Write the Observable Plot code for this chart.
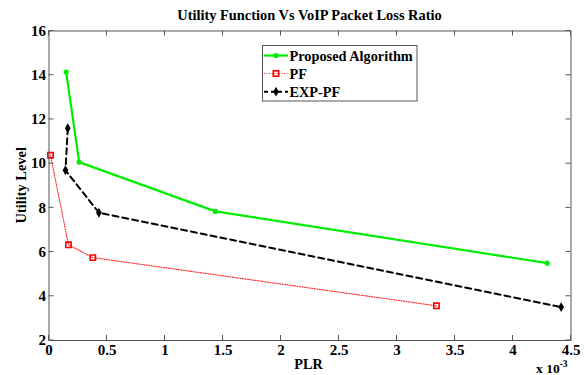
<!DOCTYPE html>
<html><head><meta charset="utf-8">
<script src="https://cdn.jsdelivr.net/npm/d3@7"></script>
<script src="https://cdn.jsdelivr.net/npm/@observablehq/plot@0.6"></script>
<style>body{margin:0;background:#fff;} svg{display:block;} svg text{font-family:"Liberation Serif",serif !important;font-weight:bold !important;}
svg [aria-label$="tick label"], svg [aria-label$="tick label"] text{font-size:15px !important;font-family:"Liberation Serif",serif !important;font-weight:bold !important;}</style>
</head><body><div id="chart"></div>
<script>
const seriesNames = ["Proposed Algorithm", "PF", "EXP-PF"];
const proposedX = [0.148, 0.26, 1.435, 4.295];
const proposedY = [14.14, 10.07, 7.84, 5.5];
const pfX = [0.013, 0.168, 0.378, 3.34];
const pfY = [10.38, 6.33, 5.75, 3.57];
const expX = [0.162, 0.142, 0.43, 4.415];
const expY = [11.6, 9.7, 7.78, 3.51];
const xTicks = [0, 0.5, 1, 1.5, 2, 2.5, 3, 3.5, 4, 4.5];
const xTickLabels = ["0", "0.5", "1", "1.5", "2", "2.5", "3", "3.5", "4", "4.5"];
const yTicks = [2, 4, 6, 8, 10, 12, 14, 16];
const titleText = "Utility Function Vs VoIP Packet Loss Ratio";
const xLabel = "PLR";
const yLabel = "Utility Level";

const toRows = (xs, ys) => xs.map((x, i) => ({x, y: ys[i]}));
const proposed = toRows(proposedX, proposedY);
const pf = toRows(pfX, pfY);
const expf = toRows(expX, expY);

const font = "Liberation Serif";
const W = 585, H = 375;
const plot = Plot.plot({
  width: W, height: H,
  marginLeft: 48.5, marginRight: 14.5, marginTop: 30.5, marginBottom: 35,
  style: {fontFamily: font, fontSize: "15px", fontWeight: "bold", color: "#000", background: "#fff"},
  x: {domain: [0, 4.5]},
  y: {domain: [2, 16]},
  marks: [
    Plot.axisX(xTicks, {tickSize: 0, tickPadding: 4, tickFormat: (d, i) => xTickLabels[i], label: null, fontFamily: font, fontWeight: "bold", fontSize: 15}),
    Plot.axisY(yTicks, {tickSize: 0, tickPadding: 3, label: null, fontFamily: font, fontWeight: "bold", fontSize: 15}),
    Plot.line(pf, {x: "x", y: "y", stroke: "#ff3030", strokeWidth: 1.2, strokeDasharray: "1,1.5"}),
    Plot.dot(pf, {x: "x", y: "y", symbol: "square", r: 3, stroke: "#ff0000", strokeWidth: 1.6, fill: "none"}),
    Plot.line(expf, {x: "x", y: "y", stroke: "#000", strokeWidth: 2, strokeDasharray: "6,4"}),
    Plot.dot(expf, {x: "x", y: "y", symbol: "diamond", r: 3, fill: "#000", stroke: "none"}),
    Plot.line(proposed, {x: "x", y: "y", stroke: "#00ee00", strokeWidth: 2.2}),
    Plot.dot(proposed, {x: "x", y: "y", r: 2.6, fill: "#00ee00", stroke: "none"}),
    Plot.frame({stroke: "#555", strokeWidth: 1})
  ]
});

const svg = d3.select(plot);
svg.selectAll("text").attr("font-family", font).style("font-variant", "normal");
const sx = plot.scale("x"), sy = plot.scale("y");
const x0 = sx.apply(0), x1 = sx.apply(4.5), y0 = sy.apply(2), y1 = sy.apply(16);
const tl = 5;
const g = svg.append("g").attr("stroke", "#555").attr("stroke-width", 1);
xTicks.forEach(t => {
  const px = sx.apply(t);
  g.append("line").attr("x1", px).attr("x2", px).attr("y1", y0).attr("y2", y0 - tl);
  g.append("line").attr("x1", px).attr("x2", px).attr("y1", y1).attr("y2", y1 + tl);
});
yTicks.forEach(t => {
  const py = sy.apply(t);
  g.append("line").attr("y1", py).attr("y2", py).attr("x1", x0).attr("x2", x0 + tl);
  g.append("line").attr("y1", py).attr("y2", py).attr("x1", x1).attr("x2", x1 - tl);
});

const txt = (sel) => sel.attr("font-family", font).attr("font-weight", "bold").attr("fill", "#000");
txt(svg.append("text")).attr("x", (x0 + x1) / 2).attr("y", 19.5).attr("text-anchor", "middle")
  .attr("font-size", 14.4).text(titleText);
txt(svg.append("text")).attr("x", (x0 + x1) / 2 - 1).attr("y", 369).attr("text-anchor", "middle")
  .attr("font-size", 14.3).text(xLabel);
txt(svg.append("text")).attr("transform", `translate(25.5,${(y0 + y1) / 2}) rotate(-90)`).attr("text-anchor", "middle")
  .attr("font-size", 14.4).text(yLabel);
const ex = txt(svg.append("text")).attr("x", 536).attr("y", 373).attr("text-anchor", "start").attr("font-size", 13.5);
ex.append("tspan").text("x 10");
ex.append("tspan").attr("dy", -6).attr("font-size", 9.5).text("-3");

// legend
const lg = svg.append("g");
lg.append("rect").attr("x", 262.5).attr("y", 45.5).attr("width", 154.5).attr("height", 55.5)
  .attr("fill", "#fff").attr("stroke", "#555").attr("stroke-width", 1);
const rowsY = [55.5, 73.5, 91.7];
const styles = [
  {stroke: "#00ee00", width: 2.2, dash: null},
  {stroke: "#ff3030", width: 1.2, dash: "1,1.5"},
  {stroke: "#000", width: 2, dash: "4,3"}
];
seriesNames.forEach((name, i) => {
  const yy = rowsY[i], s = styles[i];
  const l = lg.append("line").attr("x1", 264).attr("x2", 288).attr("y1", yy).attr("y2", yy)
    .attr("stroke", s.stroke).attr("stroke-width", s.width);
  if (s.dash) l.attr("stroke-dasharray", s.dash);
  const cx = 276;
  if (i === 0) lg.append("circle").attr("cx", cx).attr("cy", yy).attr("r", 2.6).attr("fill", "#00ee00");
  if (i === 1) lg.append("rect").attr("x", cx - 2.7).attr("y", yy - 2.7).attr("width", 5.4).attr("height", 5.4)
    .attr("fill", "none").attr("stroke", "#ff0000").attr("stroke-width", 1.6);
  if (i === 2) lg.append("path").attr("d", d3.symbol(d3.symbolDiamond, 28)()).attr("transform", `translate(${cx},${yy})`).attr("fill", "#000");
  txt(lg.append("text")).attr("x", 289.5).attr("y", yy).attr("dy", "0.35em").attr("text-anchor", "start")
    .attr("font-size", 14.3).text(name);
});

document.getElementById("chart").appendChild(plot);
</script>
</body></html>
